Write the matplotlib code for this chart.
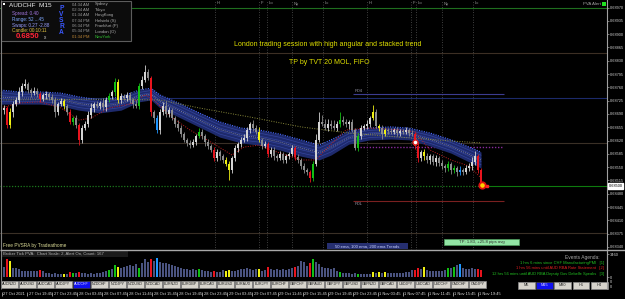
import matplotlib
matplotlib.use("Agg")
import matplotlib.pyplot as plt
import matplotlib.transforms as mtransforms
from matplotlib.patches import Rectangle
import numpy as np

plt.rcParams['font.family'] = ['Liberation Sans', 'DejaVu Sans']

# ------------------------------------------------------------------ data
symbol = "AUDCHF"
timeframe = "M15"
open0 = 68700  # points (1e-5)
closes = [
    68706, 68661, 68695, 68716, 68727, 68748, 68764, 68769, 68753, 68745, 68751, 68743, 68729, 68740, 68743, 68735, 68727, 68695, 68716, 68724,
    68711, 68695, 68669, 68679, 68661, 68622, 68653, 68664, 68687, 68706, 68716, 68711, 68719, 68708, 68727, 68737, 68748, 68774, 68727, 68737,
    68732, 68740, 68727, 68716, 68711, 68764, 68779, 68800, 68785, 68695, 68679, 68648, 68695, 68711, 68690, 68700, 68679, 68664, 68653, 68637,
    68622, 68614, 68608, 68616, 68632, 68643, 68632, 68616, 68606, 68595, 68574, 68590, 68579, 68569, 68558, 68543, 68574, 68600, 68611, 68622,
    68627, 68648, 68664, 68653, 68643, 68622, 68606, 68611, 68585, 68595, 68579, 68574, 68585, 68569, 68579, 68585, 68600, 68577, 68569, 68553,
    68543, 68537, 68522, 68558, 68622, 68669, 68664, 68653, 68664, 68658, 68653, 68664, 68674, 68669, 68664, 68669, 68648, 68600, 68632, 68653,
    68658, 68664, 68679, 68695, 68658, 68653, 68637, 68648, 68645, 68643, 68648, 68640, 68645, 68643, 68648, 68640, 68637, 68606, 68574, 68590,
    68579, 68569, 68579, 68564, 68574, 68561, 68553, 68548, 68558, 68543, 68548, 68537, 68543, 68537, 68548, 68553, 68564, 68579, 68543, 68506,
]
wick_up = [
    8, 6, 10, 7, 9, 12, 8, 14, 6, 5, 9, 7, 5, 6, 8, 5, 7, 9, 6, 8,
    6, 5, 7, 6, 8, 5, 9, 7, 10, 12, 6, 8, 5, 14, 7, 9, 6, 10, 8, 7,
    5, 9, 8, 6, 12, 7, 10, 19, 8, 6, 5, 9, 7, 11, 13, 8, 6, 7, 9, 8,
    6, 5, 8, 7, 6, 9, 7, 5, 8, 6, 9, 7, 5, 6, 8, 7, 6, 9, 5, 7,
    10, 8, 6, 9, 7, 12, 5, 8, 6, 7, 9, 6, 8, 5, 7, 6, 9, 7, 8, 6,
    7, 5, 6, 9, 16, 26, 18, 12, 14, 9, 15, 8, 20, 10, 7, 6, 9, 5, 8, 7,
    6, 9, 7, 18, 8, 6, 7, 5, 6, 8, 5, 7, 6, 5, 8, 6, 7, 5, 9, 6,
    7, 8, 6, 5, 7, 6, 9, 5, 8, 6, 7, 5, 9, 6, 8, 7, 12, 14, 6, 5,
]
wick_dn = [
    9, 7, 8, 12, 6, 7, 10, 5, 8, 9, 6, 7, 8, 6, 10, 7, 9, 12, 8, 6,
    7, 8, 6, 9, 7, 14, 8, 6, 9, 7, 10, 6, 8, 7, 9, 6, 8, 11, 9, 7,
    6, 8, 7, 9, 6, 8, 7, 6, 5, 9, 12, 8, 10, 7, 9, 8, 6, 7, 9, 8,
    7, 9, 8, 6, 7, 5, 8, 9, 7, 6, 8, 7, 9, 8, 6, 26, 8, 7, 9, 8,
    6, 7, 9, 8, 6, 7, 8, 6, 9, 7, 10, 8, 6, 9, 7, 8, 6, 9, 7, 8,
    9, 7, 12, 8, 6, 7, 5, 6, 8, 7, 6, 8, 7, 9, 8, 14, 6, 5, 8, 7,
    6, 7, 9, 5, 6, 8, 14, 6, 7, 5, 6, 8, 7, 6, 5, 7, 6, 8, 10, 7,
    9, 8, 10, 7, 12, 9, 8, 11, 7, 10, 8, 9, 7, 8, 6, 9, 10, 7, 8, 6,
]
volumes = [
    1520, 2760, 2480, 1380, 1380, 1240, 970, 970, 830, 970, 830, 830, 1100, 970, 550, 550, 410, 550, 410, 410,
    480, 410, 690, 550, 550, 690, 550, 550, 410, 550, 410, 550, 550, 690, 830, 1100, 1240, 1800, 1520, 1380,
    1520, 1660, 1800, 1660, 1930, 1380, 2070, 2760, 2210, 2760, 2350, 2900, 2210, 2070, 2070, 1930, 1800, 1660, 1520, 1380,
    1240, 1240, 1100, 1240, 1100, 1240, 1100, 970, 830, 690, 830, 690, 690, 1100, 970, 1100, 830, 970, 1100, 1240,
    1240, 1380, 1240, 1100, 1240, 1240, 970, 1100, 1520, 1240, 1100, 1240, 1100, 1240, 1100, 1240, 1380, 1520, 1660, 2350,
    2210, 1660, 2070, 2760, 2210, 1930, 1520, 1380, 1380, 1240, 1380, 970, 690, 550, 550, 550, 410, 550, 410, 410,
    410, 410, 410, 690, 550, 690, 550, 690, 550, 550, 550, 550, 550, 550, 690, 690, 1100, 1100, 1380, 1240,
    1520, 1100, 830, 830, 830, 970, 970, 1100, 1380, 1380, 1520, 1800, 1930, 1380, 1240, 1240, 1380, 1240, 1240, 1100,
]
candle_class = {1: 'r', 2: 'y', 12: 'r', 20: 'y', 22: 'r', 23: 'g', 25: 'r', 35: 'g', 37: 'g', 38: 'y',
                45: 'g', 49: 'r', 51: 'b', 65: 'g', 70: 'r', 74: 'y', 75: 'y', 85: 'y', 88: 'r', 97: 'r',
                102: 'r', 103: 'g', 112: 'g', 118: 'g', 123: 'y', 125: 'y', 127: 'y', 137: 'r', 138: 'r',
                140: 'y', 148: 'g', 150: 'g', 152: 'b', 158: 'r', 159: 'r'}

# EMA ribbon: bar index, upper / lower price (points)
rib_idx = [-1, 5, 12, 19, 25, 32, 39, 45, 49, 52, 59, 65, 72, 79, 85, 92, 99, 105, 109, 115, 122, 129, 135, 142, 149, 155, 159]
rib_hi = [68753, 68748, 68748, 68745, 68735, 68727, 68735, 68753, 68758, 68740, 68716, 68693, 68669, 68653, 68648, 68637,
          68622, 68608, 68622, 68645, 68653, 68656, 68653, 68640, 68622, 68603, 68590]
rib_lo = [68716, 68716, 68716, 68711, 68700, 68693, 68700, 68722, 68727, 68706, 68679, 68656, 68629, 68614, 68608, 68595,
          68579, 68569, 68582, 68611, 68622, 68624, 68622, 68606, 68587, 68564, 68548]
fast_idx = [-1, 5, 12, 19, 25, 29, 35, 42, 47, 50, 55, 62, 69, 76, 80, 85, 92, 99, 104, 107, 114, 122, 132, 137, 142, 149, 155, 159]
fast_val = [68706, 68719, 68722, 68706, 68674, 68679, 68706, 68716, 68740, 68727, 68687, 68648, 68616, 68582, 68603, 68608,
            68587, 68569, 68569, 68595, 68648, 68653, 68648, 68643, 68595, 68569, 68553, 68522]
slow_idx = [-1, 32, 52, 65, 82, 99, 115, 132, 149, 159]
slow_val = [68727, 68729, 68727, 68706, 68682, 68656, 68640, 68629, 68619, 68614]

# horizontal levels (prices)
level_top = 0.68969
level_lines = [(0.68851, '#3c2f24'), (0.68732, '#1c2a6a'), (0.68614, '#3a3026'), (0.68377, '#3a3026')]
bid_price = 0.68500
r04_price, r0l_price, pivot_price = 0.68743, 0.68461, 0.68603
sessions = [(70.3, 'H'), (85.0, 'F'), (87.7, 'Lo'), (96.0, 'Ny'), (106.3, 'Lc'),
            (121.0, 'H'), (135.7, 'F'), (137.3, 'Lo'), (146.0, 'Ny'), (156.3, 'Lc')]
signal_ring = (137, 0.68616)
signal_last = (159.3, 0.68503)

price_ticks = [0.68970, 0.68935, 0.68900, 0.68865, 0.68830, 0.68795, 0.68760, 0.68725, 0.68690, 0.68655,
               0.68620, 0.68585, 0.68550, 0.68515, 0.68480, 0.68445, 0.68410, 0.68375, 0.68340]
time_labels = ["27 Oct 2021", "27 Oct 19:45", "27 Oct 23:45", "28 Oct 03:45", "28 Oct 07:45", "28 Oct 11:45",
               "28 Oct 15:45", "28 Oct 19:45", "28 Oct 23:45", "29 Oct 03:45", "29 Oct 07:45", "29 Oct 11:45",
               "29 Oct 15:45", "29 Oct 19:45", "29 Oct 23:45", "1 Nov 03:45", "1 Nov 07:45", "1 Nov 11:45",
               "1 Nov 15:45", "1 Nov 19:45"]
symbols = ["AUDNZD", "AUDUSD", "AUDCAD", "AUDJPY", "AUDCHF", "NZDCHF", "NZDJPY", "NZDUSD", "NZDCAD", "EURNZD",
           "EURGBP", "EURCAD", "EURUSD", "EURAUD", "EURJPY", "EURCHF", "GBPCHF", "GBPAUD", "GBPJPY", "GBPUSD",
           "GBPNZD", "GBPCAD", "USDJPY", "USDCAD", "USDCHF", "CADCHF", "CADJPY"]
tf_buttons = ["M5", "M15", "M30", "H1", "H4"]
clock_rows = [("04:34 AM", "Sydney"), ("02:34 AM", "Tokyo"), ("01:34 AM", "HongKong"), ("07:34 PM", "Helsinki (S)"),
              ("06:34 PM", "Frankfurt (P)"), ("05:34 PM", "London (O)"), ("01:34 PM", "NewYork")]
events = [("1 hrs 6 mins since CHF ManufacturingPMI   [1]", '#22c022'),
          ("1 hrs 56 mins until AUD RBA Rate Statement   [2]", '#e02020'),
          ("12 hrs 56 mins until AUD RBA Deputy Gov Debelle Speaks   [3]", '#22c022')]

# ------------------------------------------------------------------ figure
W, H = 625, 299
fig = plt.figure(figsize=(W / 100, H / 100), dpi=100, facecolor='black')


def px_axes(x0, y0, x1, y1, **kw):
    a = fig.add_axes([x0 / W, 1 - y1 / H, (x1 - x0) / W, (y1 - y0) / H], **kw)
    a.set_facecolor('black')
    return a


XL = (-4 / 3, 201)
n = len(closes)
idx = np.arange(n)
c = np.array(closes) / 1e5
o = np.concatenate([[open0], closes[:-1]]) / 1e5
hi = np.maximum(o, c) + np.array(wick_up) / 1e5
lo = np.minimum(o, c) - np.array(wick_dn) / 1e5

cls_col = {'r': '#e8141e', 'g': '#12c012', 'y': '#f0f014', 'b': '#1e96ff'}
colors = []
vcolors = []
for i in range(n):
    k = candle_class.get(i)
    if k:
        colors.append(cls_col[k])
        vcolors.append(cls_col[k])
    else:
        colors.append('#d4d4d4' if c[i] >= o[i] else '#8c8c8c')
        vcolors.append('#4a5380')

# ---------------- main chart
ax = px_axes(0, 0, 607, 249.5)
ax.set_xlim(*XL)
ax.set_ylim(0.683334, 0.689900)
for s in ['top', 'left', 'bottom']:
    ax.spines[s].set_visible(False)
ax.spines['right'].set_color('#a0a0a0')
ax.spines['right'].set_linewidth(0.8)
ax.xaxis.set_visible(False)
ax.yaxis.tick_right()
ax.set_yticks(price_ticks)
ax.set_yticklabels([f"{p:.5f}" for p in price_ticks])
ax.tick_params(axis='y', colors='#a0a0a0', labelcolor='#d0d0d0', labelsize=2.8, length=1.5, width=0.5, pad=0.8)

# levels
ax.axhline(level_top, color='#1f6e1f', lw=0.8, zorder=1)
for p, col in level_lines:
    ax.axhline(p, color=col, lw=0.8, zorder=1)
ax.hlines(r04_price, 116.3, 166.7, color='#3c3c90', lw=0.8, zorder=2)
ax.text(116.8, r04_price + 0.00002, "R04", color='#9090a0', fontsize=3.2, va='bottom', ha='left')
ax.hlines(r0l_price, 116.3, 166.7, color='#7a2020', lw=0.8, zorder=2)
ax.text(116.8, r0l_price - 0.00002, "R0L", color='#9090a0', fontsize=3.2, va='top', ha='left')
ax.hlines(pivot_price, 118.7, 166.3, color='#8a2a9a', lw=1.0, linestyles=(0, (1, 1.2)), zorder=2)
ax.hlines(bid_price, XL[0], 159.3, color='#1c7a1c', lw=0.9, linestyles=(0, (1, 1.3)), zorder=2)
ax.hlines(bid_price, 159.3, XL[1], color='#0e7a0e', lw=0.8, zorder=2)

# sessions
trans_xa = mtransforms.blended_transform_factory(ax.transData, ax.transAxes)
for xs, lab in sessions:
    ax.axvline(xs, color='#555555', lw=0.6, linestyle=(0, (1, 2)), zorder=1)
    ax.text(xs + 0.6, 1 - 3.5 / 249.5, lab, transform=trans_xa, color='#9a9a9a', fontsize=3.0, va='center', ha='left')

# ribbon
rx = np.array(rib_idx)
rh = np.array(rib_hi) / 1e5
rl = np.array(rib_lo) / 1e5
ax.fill_between(rx, rl, rh, color='#1e2a6c', lw=0, zorder=3)
for f in (0.2, 0.4, 0.6, 0.8):
    ax.plot(rx, rl + f * (rh - rl), color='#34449c', lw=0.5, zorder=3)
ax.plot(rx, (rl + rh) / 2, color='#9a9aa8', lw=0.6, linestyle=(0, (1, 1.5)), zorder=3)
ax.plot(rx, rh, color='#4a6cff', lw=0.8, linestyle=(0, (1, 1.2)), zorder=3)
ax.plot(np.array(fast_idx), np.array(fast_val) / 1e5, color='#c02020', lw=0.7, linestyle=(0, (1, 1.5)), zorder=3)
ax.plot(np.array(slow_idx), np.array(slow_val) / 1e5, color='#8a8a3a', lw=0.7, linestyle=(0, (1, 1.5)), zorder=3)

# candles
ax.vlines(idx, lo, hi, colors=colors, lw=0.6, zorder=4)
body = np.maximum(np.abs(c - o), 0.4e-5)
ax.bar(idx, body, bottom=np.minimum(o, c), width=0.62, color=colors, lw=0, zorder=5)

# signals
ax.plot(*signal_ring, 'o', ms=3.6, mfc='white', mec='#e02020', mew=1.0, zorder=6)
ax.plot(*signal_last, 'o', ms=4.6, mfc='#ffd200', mec='#e01010', mew=1.3, zorder=6)
ax.plot(signal_last[0] + 1.7, bid_price, 's', ms=1.6, color='#ff2020', zorder=6)

# current price box
trans_ay = mtransforms.blended_transform_factory(ax.transAxes, ax.transData)
ax.text(1 + 1.5 / 607, bid_price, f"{bid_price:.5f}", transform=trans_ay, fontsize=2.8, color='black',
        va='center', ha='left', clip_on=False, zorder=20,
        bbox=dict(boxstyle='square,pad=0.2', fc='white', ec='white'))

# ---------------- volume sub-window
av = px_axes(0, 250, 607, 280)
av.set_xlim(*XL)
av.set_ylim(-451, 4062)
for s in ['top', 'left', 'bottom']:
    av.spines[s].set_visible(False)
av.spines['right'].set_color('#a0a0a0')
av.spines['right'].set_linewidth(0.8)
av.xaxis.set_visible(False)
av.yaxis.tick_right()
av.set_yticks([0, 3460])
av.set_yticklabels(["0", "3460"])
av.tick_params(axis='y', colors='#a0a0a0', labelcolor='#d0d0d0', labelsize=2.9, length=1.5, width=0.5, pad=0.8)
av.bar(idx, volumes, width=0.62, color=vcolors, lw=0)

# ---------------- time axis
at = px_axes(0, 289, 607, 299)
at.set_xlim(*XL)
at.set_ylim(0, 1)
at.axis('off')
time_pos = np.arange(len(time_labels)) * (25.05 / 3) - 2 / 3
at.vlines(time_pos, 0.3, 0.75, color='#c8c8c8', lw=0.5)
for tp, tl in zip(time_pos, time_labels):
    at.text(tp + 0.5, 0.52, tl, fontsize=2.9, color='#d8d8d8', va='center', ha='left')

# ---------------- overlay (panels, buttons, texts)
ov = fig.add_axes([0, 0, 1, 1], zorder=10)
ov.set_xlim(0, W)
ov.set_ylim(H, 0)
ov.axis('off')
ov.patch.set_alpha(0)

ov.vlines(0.5, 0, 289, color='#808080', lw=0.8)
ov.vlines(607, 249, 289, color='#a0a0a0', lw=0.8)
ov.hlines(249.6, 0, W, color='#a8a8a8', lw=1.0)

# info panel
ov.add_patch(Rectangle((1, 1), 130, 40, fc='#0c0c0c', ec='#5c5c5c', lw=0.8))
ov.add_patch(Rectangle((2.5, 2.5), 2, 2, fc='white', ec='none'))
ov.text(9, 5.5, f"{symbol}  {timeframe}", color='#f0f0f0', fontsize=4.6, va='center', ha='left')
ov.text(12, 13, "Spread: 0.40", color='#a478e0', fontsize=3.3, va='center', ha='left')
ov.text(12, 19, "Range: 52 ...45", color='#7fa8ff', fontsize=3.3, va='center', ha='left')
ov.text(12, 25, "Swaps: 0.27 -2.88", color='#9aa0ff', fontsize=3.3, va='center', ha='left')
ov.text(12, 30.5, "Candle: 00:10:11", color='#e0c040', fontsize=3.3, va='center', ha='left')
ov.text(16, 37, "0.6850", color='#ff2436', fontsize=5.6, fontweight='bold', va='center', ha='left')
ov.text(43.5, 37.8, "x", color='#d0d0d0', fontsize=3.3, va='center', ha='left')
for j, ch in enumerate("PVSRA"):
    ov.text(61.5, 8.5 + j * 6.1, ch, color='#3a58ff', fontsize=4.8, fontweight='bold', va='center', ha='center')
for j, (tm, city) in enumerate(clock_rows):
    last = j == len(clock_rows) - 1
    ov.text(72, 4.5 + j * 5.4, tm, color='#c08838' if last else '#9a9a9a', fontsize=3.0, va='center', ha='left')
    ov.text(95, 4.5 + j * 5.4, city, color='#30c030' if last else '#b0b0b0', fontsize=3.0, va='center', ha='left')

ov.text(601, 4.2, "PVA Alert", color='#a0a0a0', fontsize=3.2, va='center', ha='right')
ov.add_patch(Rectangle((602, 2.3), 3.5, 3.5, fc='#20e020', ec='none'))

ov.text(328, 44.5, "London trading session with high angular and stacked trend", color='#e0e000',
        fontsize=5.0, va='center', ha='center')
ov.text(329, 62, "TP by TVT 20 MOL, FIFO", color='#e0e000', fontsize=5.0, va='center', ha='center')

ov.text(3, 246, "Free PVSRA by Tradeathome", color='#dcdc98', fontsize=3.4, va='center', ha='left')
ov.add_patch(Rectangle((327, 243.3), 81, 5.8, fc='#262f70', ec='none'))
ov.text(367.5, 246.2, "50 ema, 100 ema, 200 ema Trends", color='#c8d0ff', fontsize=3.1, va='center', ha='center')
ov.add_patch(Rectangle((444, 239), 75, 6, fc='#92e4a4', ec='#4c9c5c', lw=0.5))
ov.text(481.5, 242, "TP: 1.83, +25.8 pips avg", color='#303030', fontsize=3.1, va='center', ha='center')

ov.add_patch(Rectangle((0.5, 250.5), 127, 6.5, fc='#1a1a1a', ec='none'))
ov.text(3, 253.8, "Broker Tick PVA:  Chart Scale: 2, Alert On, Count: 167", color='#b4b4b4', fontsize=3.1,
        va='center', ha='left')

ov.text(600, 257.5, "Events Agenda:", color='#a8a8a8', fontsize=3.5, va='center', ha='right')
for j, (ev, col) in enumerate(events):
    ov.text(604, 263 + j * 5.5, ev, color=col, fontsize=2.9, va='center', ha='right')
for yy in (282, 287):
    ov.text(610, yy, "0", color='#d0d0d0', fontsize=2.9, va='center', ha='left')

# symbol buttons
for j, sym in enumerate(symbols):
    x0 = 1 + 18 * j
    active = sym == symbol
    ov.add_patch(Rectangle((x0, 280.5), 17, 7.5, fc='#1010f0' if active else '#d6d3cc',
                           ec='#404040' if active else '#8a8a8a', lw=0.5))
    ov.text(x0 + 8.5, 284.3, sym, color='#e0e0ff' if active else '#202020', fontsize=2.6, va='center', ha='center')
# timeframe buttons
for j, tf in enumerate(tf_buttons):
    x0 = 518 + 18.2 * j
    active = tf == timeframe
    ov.add_patch(Rectangle((x0, 281.8), 16.8, 6.8, fc='#1010f0' if active else '#d6d3cc',
                           ec='#404040' if active else '#8a8a8a', lw=0.5))
    ov.text(x0 + 8.4, 285.2, tf, color='#e0e0ff' if active else '#202020', fontsize=2.8, va='center', ha='center')

fig.savefig("out.png", dpi=100, facecolor='black')
